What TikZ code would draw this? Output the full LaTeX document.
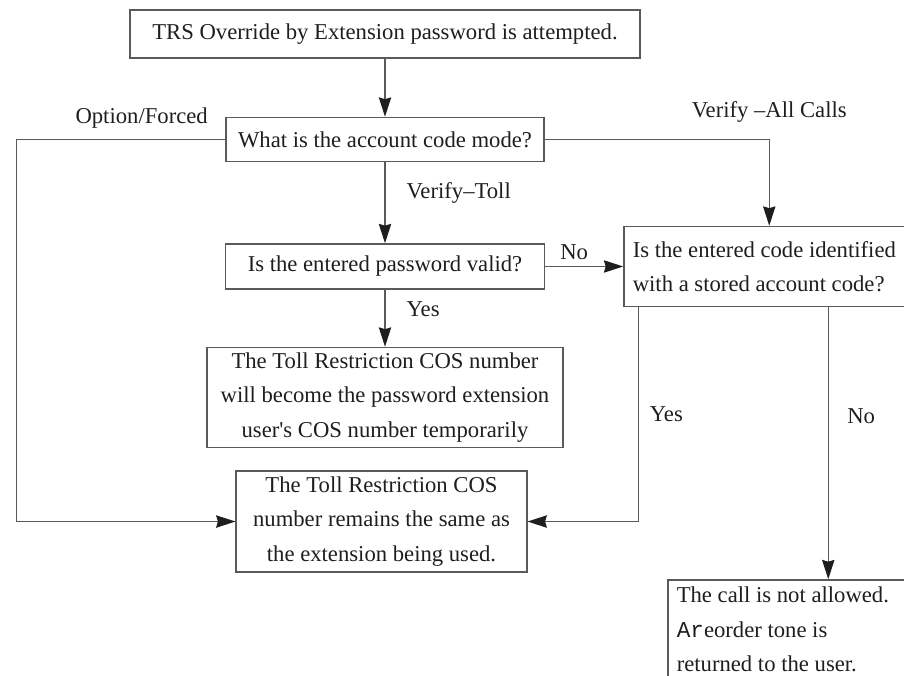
\documentclass[tikz,border=0pt]{standalone}
\usepackage{fontspec}
\setmainfont{Liberation Serif}
\setmonofont{Liberation Mono}
\usepackage{tikz}
\usetikzlibrary{arrows.meta,positioning,calc}
\definecolor{TollGray}{HTML}{5A5A5A}
\definecolor{TollText}{HTML}{1E1E1E}
\newcommand{\tollfont}{\fontsize{12.9}{19.6}\selectfont}
\tikzset{
  stepbox/.style={rectangle,draw=TollGray,line width=0.85pt,align=flush center,inner sep=3pt,text=TollText,font=\tollfont},
  openbox/.style={rectangle,draw=TollGray,line width=0.85pt,align=flush left,inner xsep=5pt,inner ysep=4pt,text=TollText,font=\tollfont},
  arrow/.style={-{Stealth[length=11pt,width=7pt,inset=1pt,color=TollText]},line width=0.85pt,color=TollGray},
  lbl/.style={text=TollText,font=\tollfont},
}

\begin{document}
\begin{tikzpicture}[node distance=1cm]
  \useasboundingbox (0,0) rectangle (18.08,13.5);
  \clip (0,0) rectangle (18.08,13.5);

  % ── Main column ──
  \node[stepbox, minimum width=10.2cm, minimum height=0.96cm] (trs) at (7.7,12.82) {TRS Override by Extension password is attempted.};
  \node[stepbox, minimum width=6.36cm, minimum height=0.88cm, below=1.16cm of trs] (mode) {What is the account code mode?};
  \node[stepbox, minimum width=6.38cm, minimum height=0.9cm, below=1.62cm of mode] (pwd) {Is the entered password valid?};
  \node[stepbox, text width=6.9cm, minimum height=2.0cm, below=1.14cm of pwd] (temp) {The Toll Restriction COS number\\will become the password extension\\user\textquotesingle s COS number temporarily};
  \node[stepbox, text width=5.6cm, minimum height=2.02cm, below=0.44cm of temp, xshift=-0.07cm] (same) {The Toll Restriction COS\\number remains the same as\\the extension being used.};

  % ── Account code check ──
  \node[openbox, text width=5.84cm, minimum height=1.6cm, right=1.56cm of pwd] (code) {Is the entered code identified\\with a stored account code?};
  \node[openbox, text width=5cm, below=5.44cm of code.south west, anchor=north west, xshift=0.88cm] (deny) {The call is not allowed.\\{\ttfamily Ar}eorder tone is\\returned to the user.};

  \coordinate (allIn) at ([xshift=2.92cm]code.north west);
  \coordinate (yesOut) at ([xshift=0.3cm]code.south west);
  \coordinate (noOut) at ([xshift=4.1cm]code.south west);

  % ── Arrows ──
  \draw[arrow] (trs) -- (mode);
  \draw[arrow] (mode) -- node[lbl, right=0.3cm, pos=0.38]{Verify--Toll} (pwd);
  \draw[arrow] (mode.west) -- node[lbl, above=0.1cm, pos=0.4]{Option/Forced} ++(-4.18,0) |- (same.west);
  \draw[arrow] (mode.east) -| node[lbl, above=0.2cm, pos=0.5]{Verify --All Calls} (allIn);
  \draw[arrow] (pwd) -- node[lbl, above, pos=0.37]{No} (code);
  \draw[arrow] (pwd) -- node[lbl, right=0.3cm, pos=0.35]{Yes} (temp);
  \draw[arrow] (yesOut) |- node[lbl, right=0.1cm, pos=0.25]{Yes} (same.east);
  \draw[arrow] (noOut) -- node[lbl, right=0.25cm, pos=0.4]{No} (noOut |- deny.north);
\end{tikzpicture}
\end{document}
